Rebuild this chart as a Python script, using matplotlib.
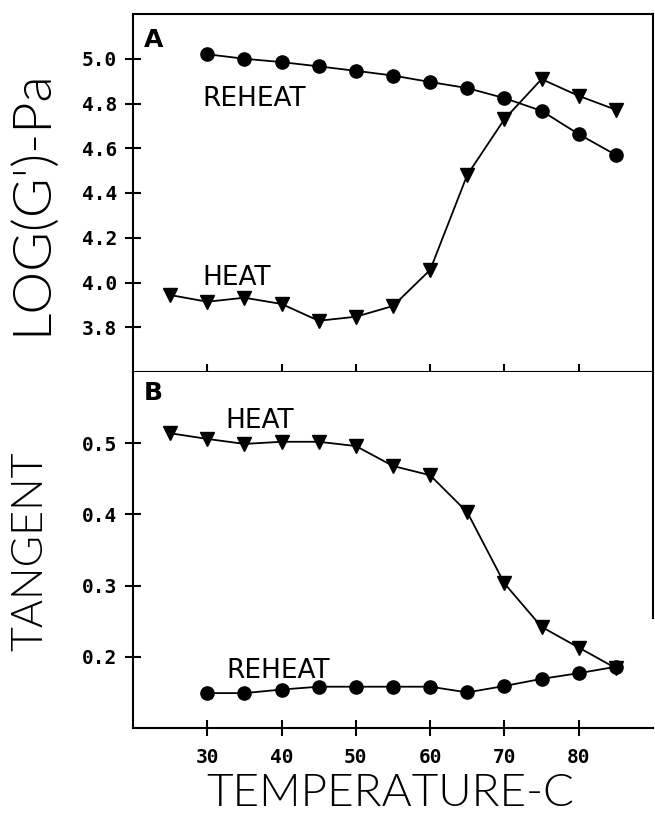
import numpy as np
import matplotlib
matplotlib.use('Agg')
import matplotlib.pyplot as plt

# temperatures (C)
temp_heat = [25, 30, 35, 40, 45, 50, 55, 60, 65, 70, 75, 80, 85]
temp_reheat = [30, 35, 40, 45, 50, 55, 60, 65, 70, 75, 80, 85]

# panel A: log(G') - Pa
logg_heat = [3.944, 3.914, 3.932, 3.904, 3.829, 3.847, 3.895, 4.056, 4.481, 4.730, 4.909, 4.834, 4.772]
logg_reheat = [5.02, 5.00, 4.985, 4.966, 4.946, 4.925, 4.896, 4.869, 4.824, 4.767, 4.663, 4.570]

# panel B: tangent
tan_heat = [0.514, 0.506, 0.499, 0.502, 0.502, 0.496, 0.468, 0.455, 0.403, 0.303, 0.242, 0.213, 0.184]
tan_reheat = [0.149, 0.149, 0.154, 0.158, 0.158, 0.158, 0.158, 0.150, 0.159, 0.169, 0.177, 0.186]

xticks = [30, 40, 50, 60, 70, 80]
yticks_a = [3.8, 4.0, 4.2, 4.4, 4.6, 4.8, 5.0]
yticks_b = [0.2, 0.3, 0.4, 0.5]

W, H = 655, 833
fig = plt.figure(figsize=(W / 100, H / 100), dpi=100)

def box(l, t, r, b):
    return [l / W, 1 - b / H, (r - l) / W, (b - t) / H]

axA = fig.add_axes(box(133, 14, 653, 372))
axB = fig.add_axes(box(133, 372, 653, 728))

tickfont = dict(family='DejaVu Sans Mono', weight='bold', size=14)
lblfont = dict(family='DejaVu Sans', size=19)
bigfont = dict(family='Lato', weight=300)

for ax in (axA, axB):
    for s in ax.spines.values():
        s.set_linewidth(1.5)
    ax.set_xlim(20, 90)

line_kw = dict(color='black', lw=1.3)

axA.plot(temp_reheat, logg_reheat, marker='o', ms=9.5, **line_kw)
axA.plot(temp_heat, logg_heat, marker='v', ms=10, **line_kw)
axA.set_ylim(3.6, 5.2)
axA.set_yticks(yticks_a)
axA.set_yticklabels(['%.1f' % v for v in yticks_a], fontdict=tickfont)
axA.set_xticks(xticks)
axA.set_xticklabels([])
axA.tick_params(axis='x', direction='in', length=6, width=1.5)
axA.tick_params(axis='y', direction='inout', length=11, width=1.5, pad=6)
axA.text(0.02, 0.96, 'A', transform=axA.transAxes, fontsize=18, fontweight='bold', va='top')
axA.text(29.4, 4.79, 'REHEAT', **lblfont)
axA.text(29.4, 3.989, 'HEAT', **lblfont)

axB.plot(temp_heat, tan_heat, marker='v', ms=10, **line_kw)
axB.plot(temp_reheat, tan_reheat, marker='o', ms=9.5, **line_kw)
axB.set_ylim(0.1, 0.6)
axB.set_yticks(yticks_b)
axB.set_yticklabels(['%.1f' % v for v in yticks_b], fontdict=tickfont)
axB.set_xticks(xticks)
axB.set_xticklabels([str(v) for v in xticks], fontdict=tickfont)
axB.tick_params(axis='x', direction='inout', length=11, width=1.5, pad=9)
axB.tick_params(axis='y', direction='inout', length=11, width=1.5, pad=6)
axB.spines['top'].set_visible(False)
axB.spines['right'].set_bounds(0.255, 0.6)
axB.text(0.02, 0.975, 'B', transform=axB.transAxes, fontsize=18, fontweight='bold', va='top')
axB.text(32.4, 0.521, 'HEAT', **lblfont)
axB.text(32.6, 0.170, 'REHEAT', **lblfont)

fig.text(390 / W, 1 - 793 / H, 'TEMPERATURE-C', fontsize=33, ha='center', va='center', **bigfont)
fig.text(31 / W, 1 - 202 / H, "LOG(G')-Pa", fontsize=39, rotation=90, ha='center', va='center', **bigfont)
fig.text(31 / W, 1 - 551 / H, 'TANGENT', fontsize=31, rotation=90, ha='center', va='center', **bigfont)

fig.savefig('out.png', dpi=100)
